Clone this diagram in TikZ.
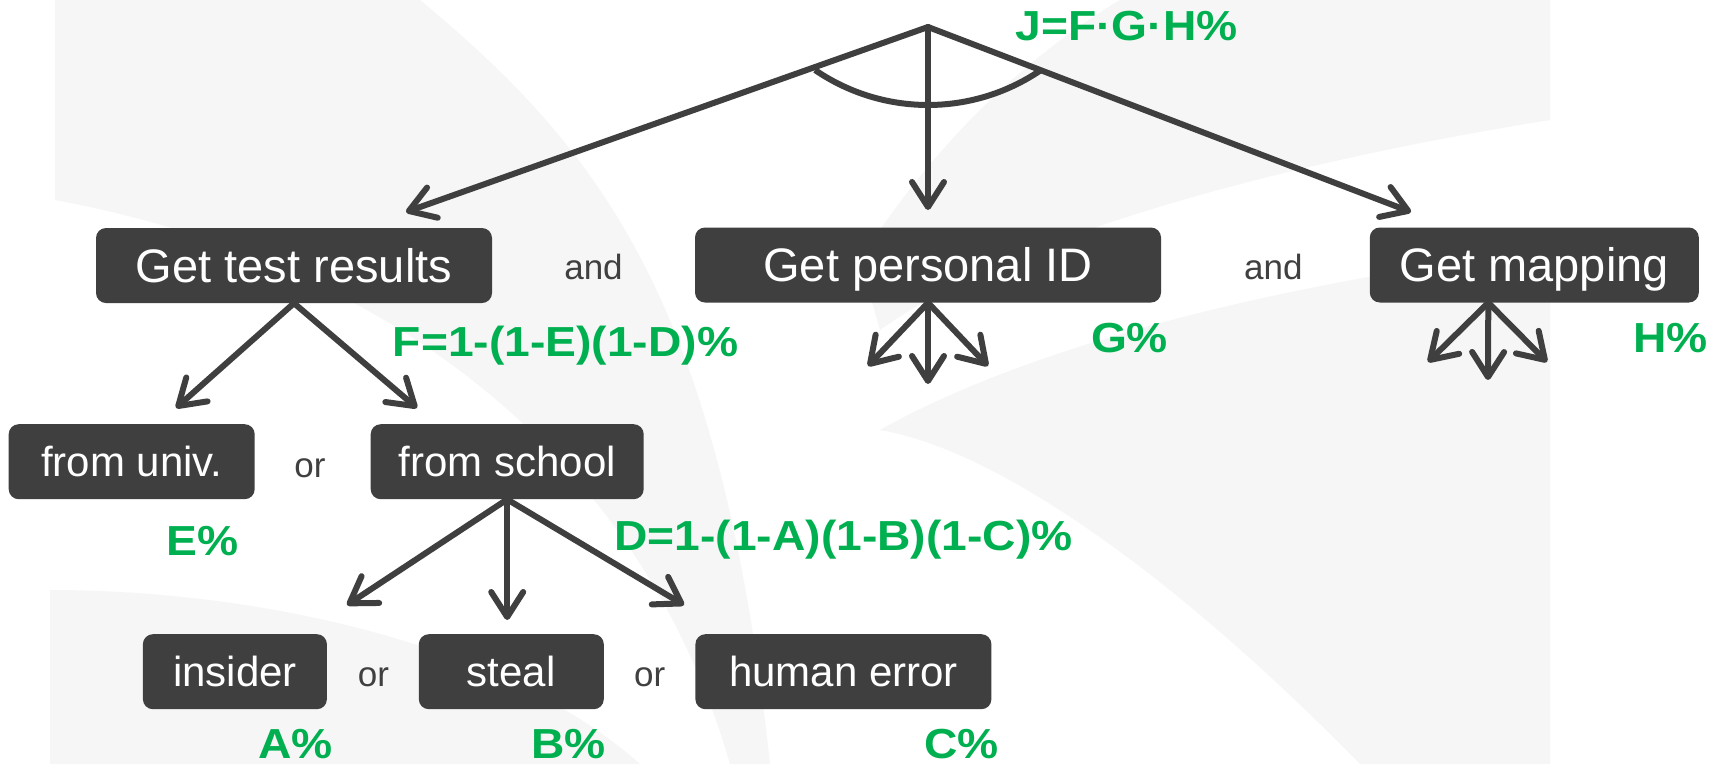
\documentclass[tikz,border=0pt]{standalone}
\usepackage{fontspec}
\setmainfont{Liberation Sans}
\newfontfamily\lblfont[FakeStretch=1.1]{Liberation Sans}
\usetikzlibrary{arrows.meta,calc}
\definecolor{boxgray}{HTML}{3F3F3F}
\definecolor{lblgreen}{HTML}{00B050}
\definecolor{txtgray}{HTML}{404040}
\definecolor{pagegray}{HTML}{F6F6F6}
\begin{document}
\begin{tikzpicture}[x=1pt,y=-1pt,
  treebox/.style={fill=boxgray, rounded corners=10pt, inner sep=0pt, text=white,
                  minimum height=75pt, text depth=0pt},
  topbox/.style={treebox, font=\fontsize{47}{50}\selectfont, text height=33.8pt},
  lowbox/.style={treebox, font=\fontsize{42}{45}\selectfont, text height=30.2pt},
  conj/.style={text=txtgray, font=\fontsize{35}{38}\selectfont, anchor=base, inner sep=0pt},
  prob/.style={text=lblgreen, font=\lblfont\bfseries\fontsize{42}{45}\selectfont, anchor=base, inner sep=0pt},
  link/.style={draw=boxgray, line width=6pt, line cap=round,
               -{Straight Barb[length=25pt,width=32pt,round]}},
  page/.style={fill=pagegray, draw=none},
]
\useasboundingbox (0,0) rectangle (1719,764);
\fill[white] (0,0) rectangle (1719,764);

% faint fanned pages in the background
\begin{scope}
\clip (50,0) rectangle (1550,764);
\path[page] (55,0) -- (420,0) .. controls (600,150) and (720,300) .. (770,764)
  -- (730,764) .. controls (640,450) and (380,260) .. (55,200) -- cycle;
\path[page] (1120,0) -- (1550,0) -- (1550,120) .. controls (1300,160) and (1020,230) .. (880,330)
  -- (860,260) .. controls (930,150) and (1020,60) .. (1120,0) -- cycle;
\path[page] (1550,250) -- (1550,764) -- (1360,764) .. controls (1180,580) and (1000,450) .. (880,430)
  .. controls (1040,340) and (1300,280) .. (1550,250) -- cycle;
\path[page] (50,590) .. controls (250,590) and (500,640) .. (640,764) -- (50,764) -- cycle;
\end{scope}

% boxes of the tree
\node[topbox, minimum width=396pt] (gtr) at (294,265.5) {Get test results};
\node[topbox, minimum width=466pt] (gpi) at (928,265) {Get personal ID};
\node[topbox, minimum width=329pt] (gm) at (1534.3,265) {Get mapping};
\node[lowbox, minimum width=246pt] (fu) at (131.7,461.7) {from univ.};
\node[lowbox, minimum width=273pt] (fs) at (507.2,461.7) {from school};
\node[lowbox, minimum width=184pt] (ins) at (234.9,671.7) {insider};
\node[lowbox, minimum width=185pt] (st) at (511.3,671.7) {steal};
\node[lowbox, minimum width=296pt] (he) at (843.4,671.7) {human error};

% top goal and its three branches
\coordinate (apex) at (928,27);
\coordinate (t1) at (406,212);
\coordinate (t2) at (928,210);
\coordinate (t3) at (1411,212);
\draw[link] (apex) -- (t1);
\draw[link] (apex) -- (t2);
\draw[link] (apex) -- (t3);
\coordinate (arcc) at (928,-95);
\draw[boxgray, line width=6pt] ($(arcc)+(124.4:200)$) arc[start angle=124.4, end angle=55.6, radius=200];

% test results: two sources
\coordinate (u1) at (176,408);
\coordinate (u2) at (417,408);
\draw[link] (gtr.south) -- (u1);
\draw[link] (gtr.south) -- (u2);

% school: three causes
\coordinate (s1) at (347,605);
\coordinate (s2) at (507.2,620);
\coordinate (s3) at (684,605);
\draw[link] (fs.south) -- (s1);
\draw[link] (fs.south) -- (s2);
\draw[link] (fs.south) -- (s3);

% personal ID: unexpanded fan
\coordinate (p1) at (868,366);
\coordinate (p2) at (928,384);
\coordinate (p3) at (988,366);
\draw[link] (gpi.south) -- (p1);
\draw[link] (gpi.south) -- (p2);
\draw[link] (gpi.south) -- (p3);

% mapping: unexpanded fan
\coordinate (m0) at ($(gm.south)+(-46,0)$);
\coordinate (m1) at (1428,362);
\coordinate (m2) at (1488,380);
\coordinate (m3) at (1547,362);
\draw[link] (m0) -- (m1);
\draw[link] (m0) -- (m2);
\draw[link] (m0) -- (m3);

% conjunctions
\node[conj] (and1) at (593.5,279) {and};
\node[conj] (and2) at (1273.4,279) {and};
\node[conj] (or1) at (309.9,477.7) {or};
\node[conj] (or2) at (373.5,686.7) {or};
\node[conj] (or3) at (649.8,686.7) {or};

% probabilities
\node[prob] (pj) at (1126.6,40) {J=F·G·H\%};
\node[prob] (pf) at (565.5,356) {F=1-(1-E)(1-D)\%};
\node[prob] (pg) at (1129.5,352) {G\%};
\node[prob] (ph) at (1670.5,352) {H\%};
\node[prob] (pe) at (202.7,555) {E\%};
\node[prob] (pd) at (843.5,550.7) {D=1-(1-A)(1-B)(1-C)\%};
\node[prob] (pa) at (295.8,758) {A\%};
\node[prob] (pb) at (568.4,758) {B\%};
\node[prob] (pc) at (961.5,758) {C\%};
\end{tikzpicture}
\end{document}
